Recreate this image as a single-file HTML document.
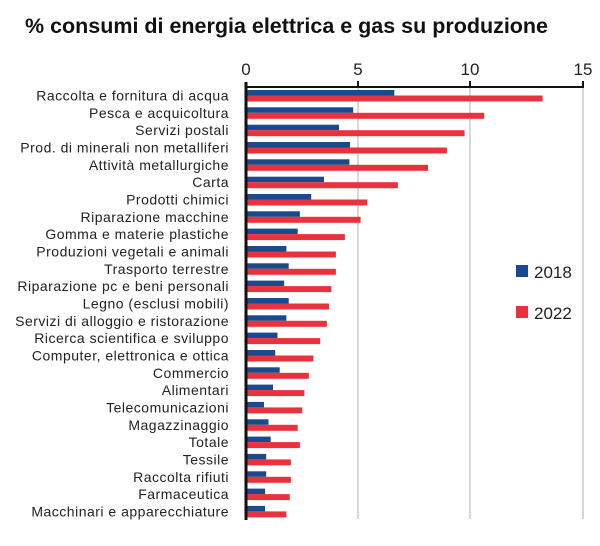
<!DOCTYPE html>
<html><head><meta charset="utf-8"><style>body{margin:0;background:#fff}svg{display:block}</style></head><body>
<svg width="600" height="546" xmlns="http://www.w3.org/2000/svg" font-family="Liberation Sans, sans-serif">
<text x="25" y="33" font-size="21" font-weight="bold" fill="#111" textLength="523" lengthAdjust="spacingAndGlyphs">% consumi di energia elettrica e gas su produzione</text>
<g stroke="#d8d8d8" stroke-width="2"><line x1="358" y1="87" x2="358" y2="519"/><line x1="470" y1="87" x2="470" y2="519"/><line x1="583" y1="87" x2="583" y2="519"/></g>
<g font-size="17" fill="#222" text-anchor="middle"><text x="246" y="75">0</text><text x="358" y="75">5</text><text x="470" y="75">10</text><text x="583" y="75">15</text></g>
<g fill="#1a4a8e">
<rect x="246" y="90" width="148.3" height="5.5"/>
<rect x="246" y="107.3" width="107.2" height="5.5"/>
<rect x="246" y="124.7" width="93" height="5.5"/>
<rect x="246" y="142" width="104" height="5.5"/>
<rect x="246" y="159.3" width="103.4" height="5.5"/>
<rect x="246" y="176.7" width="78" height="5.5"/>
<rect x="246" y="194" width="65.2" height="5.5"/>
<rect x="246" y="211.3" width="53.9" height="5.5"/>
<rect x="246" y="228.6" width="51.7" height="5.5"/>
<rect x="246" y="246" width="40.4" height="5.5"/>
<rect x="246" y="263.3" width="42.7" height="5.5"/>
<rect x="246" y="280.6" width="38.2" height="5.5"/>
<rect x="246" y="298" width="42.7" height="5.5"/>
<rect x="246" y="315.3" width="40.4" height="5.5"/>
<rect x="246" y="332.6" width="31.5" height="5.5"/>
<rect x="246" y="350" width="29.2" height="5.5"/>
<rect x="246" y="367.3" width="33.7" height="5.5"/>
<rect x="246" y="384.6" width="27" height="5.5"/>
<rect x="246" y="401.9" width="18" height="5.5"/>
<rect x="246" y="419.3" width="22.5" height="5.5"/>
<rect x="246" y="436.6" width="24.7" height="5.5"/>
<rect x="246" y="453.9" width="20.2" height="5.5"/>
<rect x="246" y="471.3" width="20.2" height="5.5"/>
<rect x="246" y="488.6" width="19.1" height="5.5"/>
<rect x="246" y="505.9" width="19.1" height="5.5"/>
</g>
<g fill="#e8323e">
<rect x="246" y="95.5" width="296.6" height="6"/>
<rect x="246" y="112.8" width="238.2" height="6"/>
<rect x="246" y="130.2" width="218.6" height="6"/>
<rect x="246" y="147.5" width="200.9" height="6"/>
<rect x="246" y="164.8" width="182" height="6"/>
<rect x="246" y="182.2" width="151.9" height="6"/>
<rect x="246" y="199.5" width="121.3" height="6"/>
<rect x="246" y="216.8" width="114.6" height="6"/>
<rect x="246" y="234.1" width="98.9" height="6"/>
<rect x="246" y="251.5" width="89.9" height="6"/>
<rect x="246" y="268.8" width="89.9" height="6"/>
<rect x="246" y="286.1" width="85.4" height="6"/>
<rect x="246" y="303.5" width="83.1" height="6"/>
<rect x="246" y="320.8" width="80.9" height="6"/>
<rect x="246" y="338.1" width="74.2" height="6"/>
<rect x="246" y="355.5" width="67.4" height="6"/>
<rect x="246" y="372.8" width="62.9" height="6"/>
<rect x="246" y="390.1" width="58.4" height="6"/>
<rect x="246" y="407.4" width="56.2" height="6"/>
<rect x="246" y="424.8" width="51.7" height="6"/>
<rect x="246" y="442.1" width="53.9" height="6"/>
<rect x="246" y="459.4" width="44.9" height="6"/>
<rect x="246" y="476.8" width="44.9" height="6"/>
<rect x="246" y="494.1" width="43.8" height="6"/>
<rect x="246" y="511.4" width="40.4" height="6"/>
</g>
<g font-size="14" letter-spacing="0.5" fill="#222" text-anchor="end">
<text x="229" y="100.5">Raccolta e fornitura di acqua</text>
<text x="229" y="117.8">Pesca e acquicoltura</text>
<text x="229" y="135.2">Servizi postali</text>
<text x="229" y="152.5">Prod. di minerali non metalliferi</text>
<text x="229" y="169.8">Attività metallurgiche</text>
<text x="229" y="187.2">Carta</text>
<text x="229" y="204.5">Prodotti chimici</text>
<text x="229" y="221.8">Riparazione macchine</text>
<text x="229" y="239.1">Gomma e materie plastiche</text>
<text x="229" y="256.5">Produzioni vegetali e animali</text>
<text x="229" y="273.8">Trasporto terrestre</text>
<text x="229" y="291.1">Riparazione  pc e beni personali</text>
<text x="229" y="308.5">Legno (esclusi mobili)</text>
<text x="229" y="325.8">Servizi di alloggio e ristorazione</text>
<text x="229" y="343.1">Ricerca scientifica e sviluppo</text>
<text x="229" y="360.5">Computer, elettronica e ottica</text>
<text x="229" y="377.8">Commercio</text>
<text x="229" y="395.1">Alimentari</text>
<text x="229" y="412.4">Telecomunicazioni</text>
<text x="229" y="429.8">Magazzinaggio</text>
<text x="229" y="447.1">Totale</text>
<text x="229" y="464.4">Tessile</text>
<text x="229" y="481.8">Raccolta rifiuti</text>
<text x="229" y="499.1">Farmaceutica</text>
<text x="229" y="516.4">Macchinari e apparecchiature</text>
</g>
<line x1="246" y1="87" x2="583" y2="87" stroke="#111" stroke-width="2"/>
<g stroke="#111" stroke-width="2"><line x1="358" y1="81" x2="358" y2="88"/><line x1="470" y1="81" x2="470" y2="88"/><line x1="583" y1="81" x2="583" y2="88"/></g>
<line x1="246" y1="82" x2="246" y2="520" stroke="#111" stroke-width="3"/>
<rect x="516" y="265" width="12" height="12" fill="#1a4a8e"/><text x="534" y="278" font-size="17" fill="#222">2018</text>
<rect x="516" y="306" width="12" height="12" fill="#e8323e"/><text x="534" y="319" font-size="17" fill="#222">2022</text>
</svg>
</body></html>
